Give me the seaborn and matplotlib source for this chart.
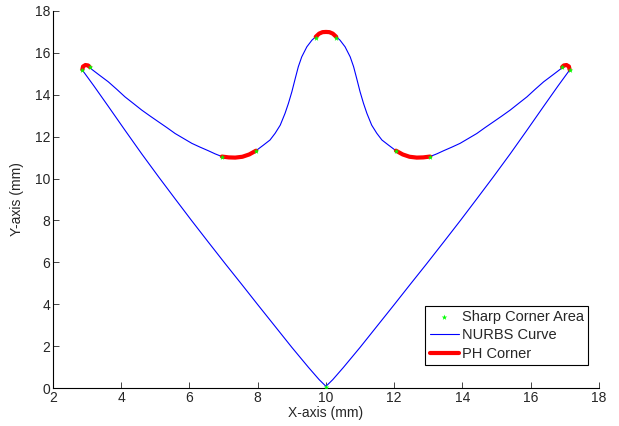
import matplotlib
matplotlib.use("Agg")
import matplotlib.pyplot as plt
import pandas as pd
import seaborn as sns

# NURBS curve, left half (mirrored about x = 10 for the right half)
upper_x = [2.92, 3.06, 3.35, 3.62, 3.87, 4.11, 4.36, 4.60, 4.85, 5.09, 5.34, 5.58, 5.83,
           6.07, 6.31, 6.55, 6.75, 6.95, 7.15, 7.34, 7.55, 7.75, 7.95, 8.17, 8.36, 8.51,
           8.66, 8.80, 8.90, 9.00, 9.10, 9.19, 9.29, 9.44, 9.59, 9.70, 9.80, 9.90, 10.0]
upper_y = [15.40, 15.31, 14.95, 14.62, 14.26, 13.90, 13.58, 13.27, 12.98, 12.71, 12.43,
           12.15, 11.91, 11.68, 11.50, 11.33, 11.18, 11.05, 11.01, 11.00, 11.04, 11.15,
           11.33, 11.60, 11.84, 12.16, 12.55, 13.11, 13.59, 14.14, 14.78, 15.34, 15.81,
           16.29, 16.61, 16.77, 16.92, 16.99, 17.0]
lower_x = [2.92, 2.86, 3.20, 3.62, 4.10, 4.60, 5.10, 5.58, 6.05, 6.55, 7.05, 7.53, 8.00,
           8.51, 9.00, 9.49, 9.80, 10.0]
lower_y = [15.40, 15.18, 14.42, 13.45, 12.33, 11.18, 10.07, 9.03, 8.02, 6.97, 5.93, 4.95,
           3.98, 2.94, 1.94, 0.98, 0.40, 0.08]

# PH corner arcs (left half)
ph_tip_x = [2.86, 2.88, 2.95, 3.03, 3.08]
ph_tip_y = [15.20, 15.35, 15.42, 15.40, 15.32]
ph_min_x = [6.95, 7.15, 7.34, 7.55, 7.75, 7.95]
ph_min_y = [11.05, 11.01, 11.00, 11.04, 11.15, 11.33]
ph_peak_x = [9.70, 9.80, 9.90, 10.0, 10.10, 10.20, 10.30]
ph_peak_y = [16.77, 16.92, 16.99, 17.0, 16.99, 16.92, 16.77]

# sharp corner area points
sharp_x = [2.86, 3.08, 6.95, 7.95, 9.70, 10.30, 12.05, 13.05, 16.92, 17.14, 10.0]
sharp_y = [15.18, 15.31, 11.05, 11.33, 16.72, 16.72, 11.33, 11.05, 15.31, 15.18, 0.05]


def mirror(xs, ys):
    return [20 - v for v in xs[::-1]], ys[::-1]


# full curve: upper left -> upper right -> lower right -> lower left
ur_x, ur_y = mirror(upper_x, upper_y)
lr_x, lr_y = mirror(lower_x, lower_y)
curve_x = upper_x + ur_x[1:] + lr_x[::-1][1:] + lower_x[::-1][1:]
curve_y = upper_y + ur_y[1:] + lr_y[::-1][1:] + lower_y[::-1][1:]

ph_segments = []
for sx, sy in [(ph_tip_x, ph_tip_y), (ph_min_x, ph_min_y)]:
    ph_segments.append((sx, sy))
    ph_segments.append(mirror(sx, sy))
ph_segments.append((ph_peak_x, ph_peak_y))

sns.set_style("ticks")
plt.rcParams["font.family"] = ["Liberation Sans", "DejaVu Sans"]

fig = plt.figure(figsize=(6.19, 4.26), dpi=100)
ax = fig.add_axes([0.0856, 0.0892, 0.882, 0.885])

sns.scatterplot(x=sharp_x, y=sharp_y, marker="*", color="#00ff00", s=18,
                linewidth=0, ax=ax, label="Sharp Corner Area", zorder=4)

df_curve = pd.DataFrame({"x": curve_x, "y": curve_y})
sns.lineplot(data=df_curve, x="x", y="y", sort=False, estimator=None,
             color="#0000ff", linewidth=0.8, ax=ax, label="NURBS Curve", zorder=2)

for i, (sx, sy) in enumerate(ph_segments):
    sns.lineplot(x=sx, y=sy, sort=False, estimator=None, color="#ff0000",
                 linewidth=3, ax=ax, label="PH Corner" if i == 0 else None, zorder=3)

ax.set_xlim(2, 18)
ax.set_ylim(0, 18)
ax.set_xticks(range(2, 19, 2))
ax.set_yticks(range(0, 19, 2))
ax.set_xlabel("X-axis (mm)", fontsize=10, labelpad=1)
ax.set_ylabel("Y-axis (mm)", fontsize=10, labelpad=8)
ax.tick_params(direction="in", length=4, width=0.6, labelsize=10, pad=2)
for side in ["top", "right"]:
    ax.spines[side].set_visible(False)
for side in ["left", "bottom"]:
    ax.spines[side].set_linewidth(0.8)
    ax.spines[side].set_color("black")

leg = ax.legend(loc="lower right", bbox_to_anchor=(0.98, 0.061), fontsize=10.5,
                frameon=True, fancybox=False, framealpha=1, borderpad=0.3,
                labelspacing=0.3, handlelength=2.0, handletextpad=0.2,
                borderaxespad=0)
leg.get_frame().set_edgecolor("black")
leg.get_frame().set_linewidth(0.8)

fig.savefig("out.png", dpi=100)
